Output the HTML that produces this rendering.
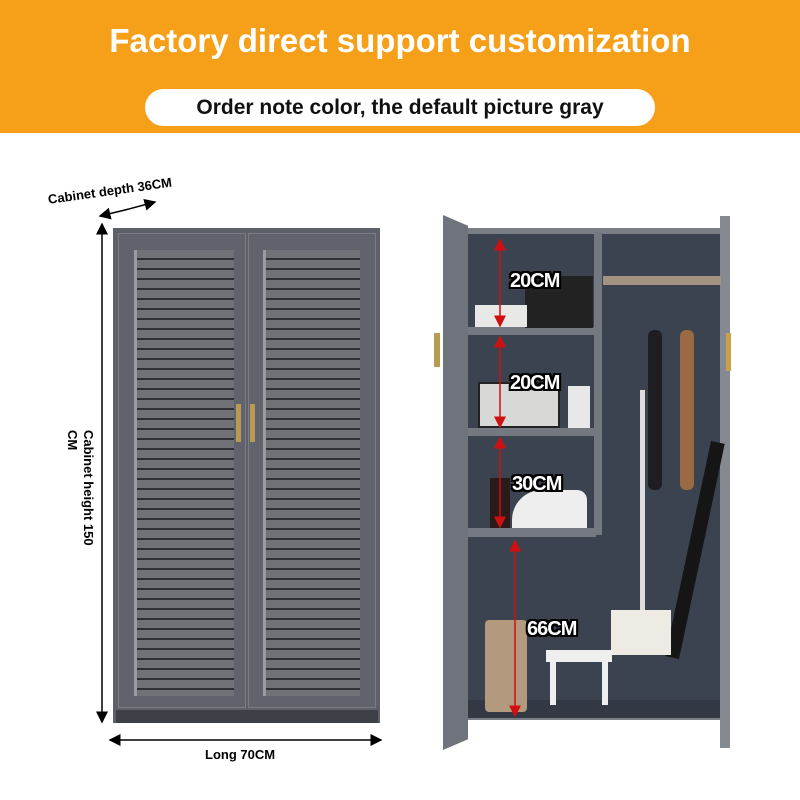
<!DOCTYPE html>
<html><head><style>
*{margin:0;padding:0;box-sizing:border-box}
body{width:800px;height:800px;position:relative;background:#fff;font-family:"Liberation Sans",sans-serif;overflow:hidden}
.a{position:absolute}
.lbl{position:absolute;font-weight:bold;font-size:20px;color:#fff;letter-spacing:-1px;
text-shadow:-2px -2px 0 #000,2px -2px 0 #000,-2px 2px 0 #000,2px 2px 0 #000,0 2px 0 #000,0 -2px 0 #000,2px 0 0 #000,-2px 0 0 #000}
.slats{background:repeating-linear-gradient(180deg,#707278 0,#707278 8px,#2e3036 8px,#2e3036 10px)}
</style></head><body>
<div class="a" style="left:0;top:0;width:800px;height:133px;background:#f6a01a"></div>
<div class="a" style="left:0;top:22px;width:800px;text-align:center;color:#fff;font-weight:bold;font-size:33px">Factory direct support customization</div>
<div class="a" style="left:145px;top:89px;width:510px;height:37px;background:#fff;border-radius:19px;text-align:center;font-weight:bold;font-size:21px;line-height:37px;color:#111">Order note color, the default picture gray</div>

<!-- left cabinet -->
<div class="a" style="left:113px;top:228px;width:267px;height:495px;background:#5d6068"></div>
<div class="a" style="left:116px;top:710px;width:262px;height:13px;background:#3e4047"></div>
<div class="a" style="left:118px;top:233px;width:128px;height:475px;background:#60636b;border:1px solid #7a7d84"></div>
<div class="a" style="left:248px;top:233px;width:128px;height:475px;background:#60636b;border:1px solid #7a7d84"></div>
<div class="a slats" style="left:134px;top:250px;width:100px;height:446px;border-left:3px solid #9a9ca2"></div>
<div class="a slats" style="left:263px;top:250px;width:97px;height:446px;border-left:3px solid #9a9ca2"></div>
<div class="a" style="left:236px;top:404px;width:5px;height:38px;background:#b89a52"></div>
<div class="a" style="left:250px;top:404px;width:5px;height:38px;background:#b89a52"></div>

<!-- dims -->
<svg class="a" style="left:0;top:0" width="800" height="800">
<defs><marker id="m" markerWidth="8" markerHeight="8" refX="7" refY="4" orient="auto"><path d="M0,0L8,4L0,8z" fill="#000"/></marker>
<marker id="r" markerWidth="8" markerHeight="8" refX="7" refY="4" orient="auto"><path d="M0,0L8,4L0,8z" fill="#d01010"/></marker></defs>
<line x1="125" y1="210" x2="100" y2="216" stroke="#000" stroke-width="1.5" marker-end="url(#m)"/>
<line x1="125" y1="210" x2="155" y2="202" stroke="#000" stroke-width="1.5" marker-end="url(#m)"/>
<line x1="102" y1="470" x2="102" y2="224" stroke="#000" stroke-width="1.5" marker-end="url(#m)"/>
<line x1="102" y1="470" x2="102" y2="722" stroke="#000" stroke-width="1.5" marker-end="url(#m)"/>
<line x1="245" y1="740" x2="110" y2="740" stroke="#000" stroke-width="1.5" marker-end="url(#m)"/>
<line x1="245" y1="740" x2="381" y2="740" stroke="#000" stroke-width="1.5" marker-end="url(#m)"/>
</svg>
<div class="a" style="left:47px;top:192px;font-weight:bold;font-size:13px;transform:rotate(-8deg);transform-origin:left top">Cabinet depth 36CM</div>
<div class="a" style="left:96px;top:430px;font-weight:bold;font-size:13px;transform:rotate(90deg);transform-origin:left top;white-space:nowrap">Cabinet height 150</div>
<div class="a" style="left:80px;top:430px;font-weight:bold;font-size:13px;transform:rotate(90deg);transform-origin:left top">CM</div>
<div class="a" style="left:205px;top:747px;font-weight:bold;font-size:13px">Long 70CM</div>

<!-- right cabinet -->
<div class="a" style="left:463px;top:228px;width:262px;height:492px;background:#7a7e86"></div>
<div class="a" style="left:468px;top:234px;width:254px;height:472px;background:#3c4350"></div>
<div class="a" style="left:468px;top:700px;width:254px;height:18px;background:#333944"></div>
<div class="a" style="left:443px;top:215px;width:25px;height:535px;background:#6f737b;clip-path:polygon(0 0,100% 2%,100% 98%,0 100%)"></div>
<div class="a" style="left:720px;top:216px;width:10px;height:532px;background:#858990"></div>
<div class="a" style="left:434px;top:333px;width:6px;height:34px;background:#b89a52"></div>
<div class="a" style="left:726px;top:333px;width:5px;height:38px;background:#c7a24a"></div>
<div class="a" style="left:594px;top:232px;width:8px;height:303px;background:#747880"></div>
<div class="a" style="left:468px;top:327px;width:128px;height:8px;background:#747880"></div>
<div class="a" style="left:468px;top:428px;width:128px;height:8px;background:#747880"></div>
<div class="a" style="left:468px;top:528px;width:128px;height:9px;background:#747880"></div>
<div class="a" style="left:603px;top:276px;width:118px;height:9px;background:#a49383"></div>
<!-- items -->
<div class="a" style="left:525px;top:276px;width:68px;height:52px;background:#222"></div>
<div class="a" style="left:475px;top:305px;width:52px;height:22px;background:#e8e8e6"></div>
<div class="a" style="left:478px;top:382px;width:82px;height:46px;background:#d8d8d6;border:2px solid #222"></div>
<div class="a" style="left:568px;top:386px;width:22px;height:42px;background:#e8e8e8"></div>
<div class="a" style="left:490px;top:478px;width:20px;height:50px;background:#2a1a1a"></div>
<div class="a" style="left:512px;top:490px;width:75px;height:38px;background:#eee;border-radius:30px 10px 0 0"></div>
<div class="a" style="left:648px;top:330px;width:14px;height:160px;background:#1e1e22;border-radius:6px"></div>
<div class="a" style="left:680px;top:330px;width:14px;height:160px;background:#9a6a42;border-radius:6px"></div>
<div class="a" style="left:640px;top:390px;width:5px;height:225px;background:#ddd"></div>
<div class="a" style="left:688px;top:440px;width:14px;height:220px;background:#151515;transform:rotate(12deg)"></div>
<div class="a" style="left:611px;top:610px;width:60px;height:45px;background:#eeeae4"></div>
<div class="a" style="left:485px;top:620px;width:42px;height:92px;background:#b39a7e;border-radius:4px"></div>
<div class="a" style="left:546px;top:650px;width:66px;height:12px;background:#efefef"></div>
<div class="a" style="left:550px;top:660px;width:6px;height:45px;background:#efefef"></div>
<div class="a" style="left:602px;top:660px;width:6px;height:45px;background:#efefef"></div>
<!-- red arrows -->
<svg class="a" style="left:0;top:0" width="800" height="800">
<g stroke="#d01010" stroke-width="1.5">
<line x1="500" y1="280" x2="500" y2="240" marker-end="url(#r)"/><line x1="500" y1="280" x2="500" y2="326" marker-end="url(#r)"/>
<line x1="500" y1="380" x2="500" y2="337" marker-end="url(#r)"/><line x1="500" y1="380" x2="500" y2="427" marker-end="url(#r)"/>
<line x1="500" y1="480" x2="500" y2="438" marker-end="url(#r)"/><line x1="500" y1="480" x2="500" y2="527" marker-end="url(#r)"/>
<line x1="515" y1="620" x2="515" y2="541" marker-end="url(#r)"/><line x1="515" y1="620" x2="515" y2="716" marker-end="url(#r)"/>
</g></svg>
<div class="lbl" style="left:510px;top:270px">20CM</div>
<div class="lbl" style="left:510px;top:372px">20CM</div>
<div class="lbl" style="left:512px;top:473px">30CM</div>
<div class="lbl" style="left:527px;top:618px">66CM</div>
</body></html>
